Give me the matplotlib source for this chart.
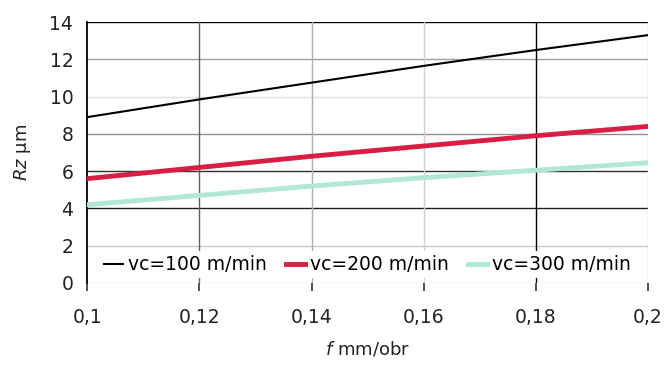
import matplotlib
matplotlib.use('Agg')
import matplotlib.pyplot as plt

plt.rcParams['font.family'] = ['DejaVu Sans']
plt.rcParams['mathtext.fontset'] = 'custom'
plt.rcParams['mathtext.it'] = 'DejaVu Sans:italic'
plt.rcParams['mathtext.rm'] = 'DejaVu Sans'

# dane
f = [0.10, 0.12, 0.14, 0.16, 0.18, 0.20]
rz_100 = [8.9, 9.85, 10.75, 11.65, 12.5, 13.3]
rz_200 = [5.6, 6.2, 6.8, 7.35, 7.9, 8.4]
rz_300 = [4.2, 4.7, 5.2, 5.65, 6.05, 6.45]
labels = ['vc=100 m/min', 'vc=200 m/min', 'vc=300 m/min']
x_ticks = [0.10, 0.12, 0.14, 0.16, 0.18, 0.20]
x_ticklabels = ['0,1', '0,12', '0,14', '0,16', '0,18', '0,2']
y_ticks = [0, 2, 4, 6, 8, 10, 12, 14]

fig = plt.figure(figsize=(6.66, 3.68), dpi=100)
ax = fig.add_axes([0.131, 0.231, 0.842, 0.709])

# siatka (rozne odcienie jak w oryginale)
h_cols = {2: '#c8c8c8', 4: '#202020', 6: '#303030', 8: '#909090', 10: '#e0e0e0', 12: '#a0a0a0', 14: '#000000'}
for yv, c in h_cols.items():
    ax.axhline(yv, color=c, lw=1.0, zorder=0)
v_cols = {0.12: '#606060', 0.14: '#b0b0b0', 0.16: '#d0d0d0', 0.18: '#000000', 0.20: '#d0d0d0'}
for xv, c in v_cols.items():
    ax.axvline(xv, color=c, lw=1.0, zorder=0)
ax.axhline(0, color='#e0e0e0', lw=1.0, zorder=0)

ax.plot(f, rz_100, color='#000000', lw=1.5, label=labels[0], zorder=3)
ax.plot(f, rz_200, color='#d81e45', lw=3.5, label=labels[1], zorder=3)
ax.plot(f, rz_300, color='#b0e8d2', lw=3.5, label=labels[2], zorder=3)

ax.set_xlim(0.1, 0.2)
ax.set_ylim(0, 14)
ax.set_xticks(x_ticks)
ax.set_xticklabels(x_ticklabels)
ax.set_yticks(y_ticks)
ax.tick_params(axis='both', labelsize=13.5, length=0, pad=10, colors='#222222')
ax.tick_params(axis='x', length=6, width=1.2, color='#333333', pad=12)

for s in ['top', 'right', 'bottom']:
    ax.spines[s].set_visible(False)
ax.spines['left'].set_color('#000000')
ax.spines['left'].set_linewidth(1.3)

ax.set_xlabel(r'$f$ mm/obr', fontsize=13, labelpad=9, color='#222222')
ax.set_ylabel(r'$Rz$ µm', fontsize=13, labelpad=12, color='#222222')

leg = ax.legend(loc='center', bbox_to_anchor=(0.5, 0.07), ncol=3, fontsize=13.5,
                frameon=True, handlelength=1.0, handletextpad=0.3, columnspacing=1.0,
                borderpad=0.2, fancybox=False)
leg.get_frame().set_facecolor('white')
leg.get_frame().set_edgecolor('none')
leg.get_frame().set_alpha(1.0)
leg.set_zorder(5)

fig.savefig('out.png', dpi=100)
